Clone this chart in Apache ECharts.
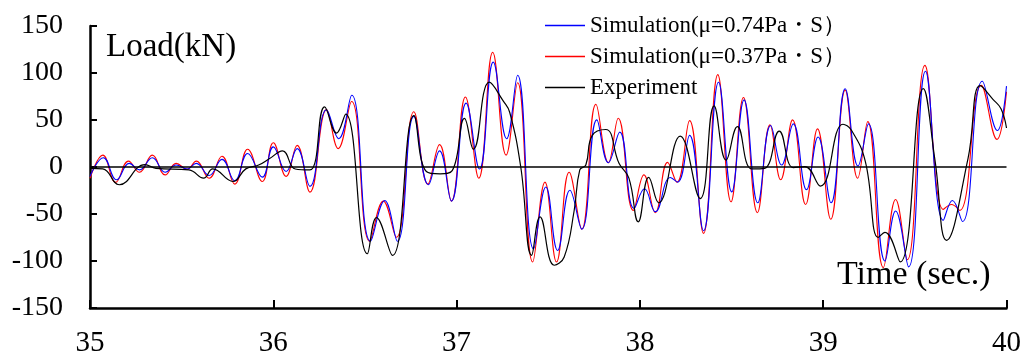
<!DOCTYPE html>
<html>
<head>
<meta charset="utf-8">
<script src="https://cdn.jsdelivr.net/npm/echarts@6/dist/echarts.min.js"></script>
<style>html,body{margin:0;padding:0;background:#fff;}#c{width:1024px;height:358px;}</style>
</head>
<body>
<div id="c"></div>
<script>
// Series names
var seriesNames = ['Simulation(\u03bc=0.74Pa\u30fbS\uff09', 'Simulation(\u03bc=0.37Pa\u30fbS\uff09', 'Experiment'];
var seriesColors = ['#0000ff', '#ff0000', '#000000'];
// Tick values
var xTicks = [35, 36, 37, 38, 39, 40];
var yTicks = [-150, -100, -50, 0, 50, 100, 150];

// Simulation mu=0.74 (blue)
var blueT = [35.00,35.073,35.145,35.214,35.27,35.34,35.41,35.47,35.53,35.58,35.65,35.72,35.79,35.86,35.94,36.00,36.07,36.13,36.20,36.29,36.357,36.428,36.53,36.608,36.677,36.767,36.846,36.907,36.972,37.052,37.125,37.20,37.273,37.333,37.42,37.487,37.551,37.618,37.683,37.765,37.828,37.89,37.968,38.025,38.084,38.166,38.206,38.271,38.347,38.429,38.501,38.568,38.643,38.713,38.773,38.837,38.909,38.972,39.043,39.12,39.19,39.247,39.337,39.395,39.466,39.558,39.655,39.705,39.76,39.868,39.95,40.00];
var blueV = [-10,9.9,-13.6,3.9,-3.1,9.9,-5.6,2.1,-2.1,3.9,-9.0,8.1,-14.7,14.4,-10.8,21.4,-4.8,19.6,-20.6,60.9,30.1,76.3,-79,-35.7,-79,53.9,-18.9,17.2,-36.3,67.9,-2.1,111.6,30.1,97.6,-87.1,-21.3,-88.8,-24.8,-66.1,50.1,4.6,37.1,-44.1,-23.1,-47.5,-11.1,-16.1,33.6,-67.8,90.2,-26.5,71.4,-38.1,44.1,2.1,45.9,-24.1,31.9,-38.1,83.3,1.0,45.9,-100,-46.8,-106.3,101.8,-56.7,-35.7,-58,91.3,38.8,86];

// Simulation mu=0.37 (red)
var redT = [35.00,35.07,35.14,35.21,35.27,35.34,35.41,35.47,35.53,35.58,35.65,35.72,35.79,35.86,35.94,36.00,36.07,36.13,36.20,36.29,36.354,36.427,36.526,36.60,36.671,36.767,36.843,36.907,36.972,37.048,37.121,37.197,37.27,37.333,37.415,37.482,37.545,37.614,37.683,37.76,37.828,37.882,37.964,38.022,38.084,38.151,38.202,38.271,38.347,38.425,38.497,38.565,38.641,38.71,38.768,38.833,38.904,38.969,39.041,39.12,39.188,39.243,39.328,39.395,39.459,39.555,39.655,39.70,39.745,39.863,39.948,40.00];
var redV = [-12,12.6,-16.4,6.3,-5.6,12.6,-8.4,3.9,-2.4,6.3,-11.9,11.5,-18.2,18.9,-15.4,25.8,-10,23,-26.7,61,19.6,69.7,-79,-36.3,-74.8,58.8,-18.2,23.8,-36.3,74.5,-11.9,122.1,12.6,89.6,-101,-16.1,-101,-5.6,-66.1,66.8,4.6,51.8,-46.2,-8.4,-48.6,4.9,-16.1,49.3,-70.6,98.3,-37,73.9,-48.6,44.8,-13.6,50.1,-39.9,40.6,-55.6,81.8,-11.9,48.3,-107,-34.6,-98.6,108.1,-45.1,-39.9,-46.2,86.8,29.4,80];

// Experiment (black)
var expT = [35.00,35.07,35.16,35.30,35.36,35.54,35.62,35.67,35.78,35.85,35.92,35.98,36.05,36.12,36.20,36.28,36.345,36.395,36.513,36.563,36.65,36.767,36.835,36.91,36.976,37.043,37.092,37.179,37.255,37.29,37.35,37.409,37.455,37.533,37.587,37.641,37.672,37.705,37.74,37.814,37.886,37.94,37.991,38.048,38.102,38.22,38.329,38.405,38.47,38.532,38.61,38.68,38.76,38.837,38.90,38.985,39.108,39.155,39.23,39.30,39.337,39.42,39.546,39.61,39.673,39.79,39.857,39.926,39.97,40.00];
var expV = [-1.4,-2,-18.9,2.5,-1.4,-3.1,-11.9,-2,-15.4,-2,2.1,9,17.2,-2.1,-3.1,64,36.1,56.3,-92.3,-53.8,-94,54.6,-4.8,-7.3,-3.8,51.8,18.9,90.2,70,58,0,-94,-53.1,-104.5,-95.8,-46.8,-3.1,2.1,33.6,39.9,3.9,-11.9,-58.3,-11.1,-38.1,32.9,-33.6,65.1,7.3,43,-2.1,-1.4,38.2,-0.7,0.4,-20.3,45.5,38.8,5.7,-74.8,-69.6,-101,83.3,7,-78,9,86.5,72,62,41.5];

function pairs(t, v) { return t.map(function (x, i) { return [x, v[i]]; }); }

var FONT = '"Liberation Serif", "Times New Roman", serif';
var chart = echarts.init(document.getElementById('c'), null, { renderer: 'canvas' });
chart.setOption({
  animation: false,
  backgroundColor: '#ffffff',
  grid: { left: 90, right: 15, top: 26, bottom: 47 },
  xAxis: {
    type: 'value', min: xTicks[0], max: xTicks[xTicks.length - 1], interval: 1,
    axisLine: { onZero: false, lineStyle: { color: '#000', width: 2.5 } },
    axisTick: { inside: true, length: 8, lineStyle: { color: '#000', width: 2 } },
    axisLabel: { margin: 21, fontFamily: FONT, fontSize: 29, color: '#000' },
    splitLine: { show: false }
  },
  yAxis: {
    type: 'value', min: yTicks[0], max: yTicks[yTicks.length - 1], interval: 50,
    axisLine: { show: true, lineStyle: { color: '#000', width: 2.5 } },
    axisTick: { show: true, inside: true, length: 7, lineStyle: { color: '#000', width: 2 } },
    axisLabel: { margin: 27, fontFamily: FONT, fontSize: 28, color: '#000' },
    splitLine: { show: false }
  },
  legend: {
    show: true,
    orient: 'vertical', left: 545, top: 14, padding: 0,
    icon: 'rect', itemWidth: 40, itemHeight: 1.3, itemGap: 8,
    textStyle: { fontFamily: FONT, fontSize: 23, color: '#000', padding: [0, 0, 0, 0] },
    data: seriesNames
  },
  graphic: [
    { type: 'text', left: 106, top: 31, style: { text: 'Load(kN)', font: '33px ' + FONT, fill: '#000' } },
    { type: 'text', left: 837, top: 258, style: { text: 'Time (sec.)', font: '34px ' + FONT, fill: '#000' } }
  ],
  series: [
    {
      name: seriesNames[0], type: 'line', data: pairs(blueT, blueV), smooth: 0.45, symbol: 'none', showSymbol: false,
      lineStyle: { color: seriesColors[0], width: 1.1 }, itemStyle: { color: seriesColors[0] }, z: 3
    },
    {
      name: seriesNames[1], type: 'line', data: pairs(redT, redV), smooth: 0.45, symbol: 'none', showSymbol: false,
      lineStyle: { color: seriesColors[1], width: 1.1 }, itemStyle: { color: seriesColors[1] }, z: 2
    },
    {
      name: seriesNames[2], type: 'line', data: pairs(expT, expV), smooth: 0.45, symbol: 'none', showSymbol: false,
      lineStyle: { color: seriesColors[2], width: 1.2 }, itemStyle: { color: seriesColors[2] }, z: 4,
      markLine: { silent: true, symbol: 'none', label: { show: false }, lineStyle: { color: '#000', width: 1.6, type: 'solid' }, data: [{ yAxis: 0 }] }
    }
  ]
});
</script>
</body>
</html>
